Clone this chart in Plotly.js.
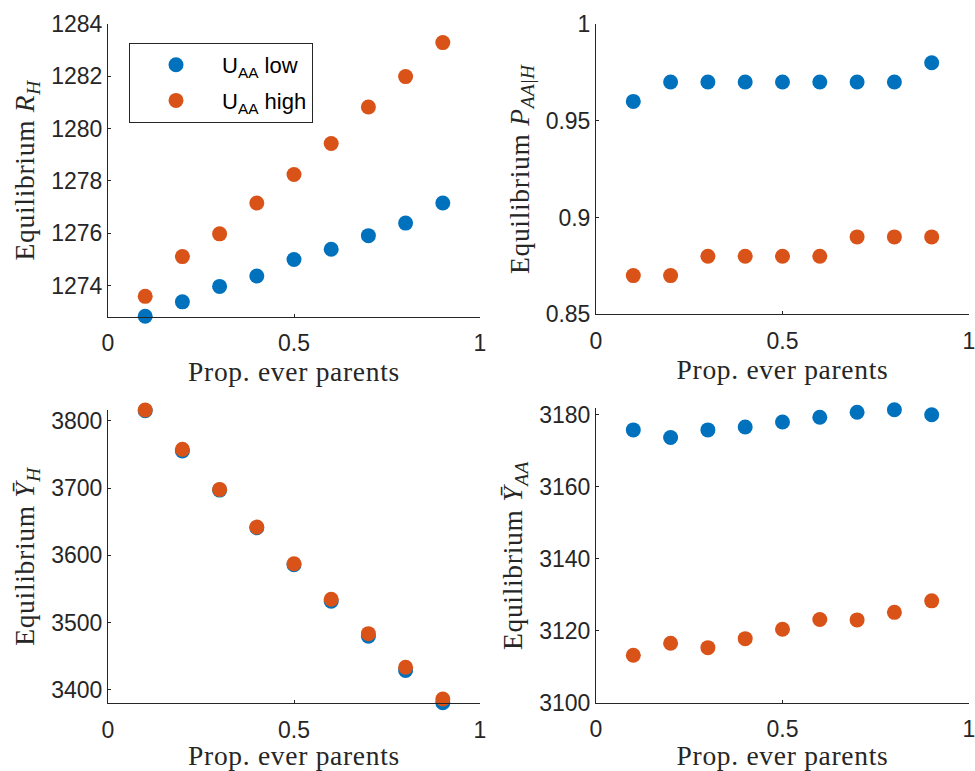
<!DOCTYPE html>
<html>
<head>
<meta charset="utf-8">
<script src="https://cdn.plot.ly/plotly-3.0.1.min.js"></script>
<style>
html,body{margin:0;padding:0;background:#fff;}
#chart{width:975px;height:771px;}
.infolayer g[class*="title"] text{letter-spacing:0.7px;}
</style>
</head>
<body>
<div id="chart"></div>
<script>
// ---- data ----
const propEverParents = [0.1, 0.2, 0.3, 0.4, 0.5, 0.6, 0.7, 0.8, 0.9];
const seriesNames = ['U<sub>AA</sub> low', 'U<sub>AA</sub> high'];

const rH_low  = [1272.83, 1273.38, 1273.97, 1274.37, 1275.00, 1275.39, 1275.91, 1276.39, 1277.16];
const rH_high = [1273.59, 1275.11, 1275.98, 1277.16, 1278.25, 1279.43, 1280.83, 1281.99, 1283.29];

const pAAH_low  = [0.96, 0.97, 0.97, 0.97, 0.97, 0.97, 0.97, 0.97, 0.98];
const pAAH_high = [0.87, 0.87, 0.88, 0.88, 0.88, 0.88, 0.89, 0.89, 0.89];

const yH_low  = [3815.0, 3755.0, 3697.0, 3641.0, 3586.0, 3532.0, 3480.0, 3429.0, 3381.0];
const yH_high = [3815.9, 3757.5, 3698.0, 3642.0, 3587.5, 3534.8, 3483.7, 3433.7, 3386.6];

const yAA_low  = [3175.8, 3173.7, 3175.8, 3176.6, 3178.0, 3179.3, 3180.7, 3181.4, 3180.0];
const yAA_high = [3113.2, 3116.5, 3115.3, 3117.8, 3120.4, 3123.1, 3123.0, 3125.1, 3128.3];

const xTicks = [0, 0.5, 1];
const xTickText = ['0', '0.5', '1'];
const rHTicks = [1274, 1276, 1278, 1280, 1282, 1284];
const pTicks = [0.85, 0.9, 0.95, 1];
const pTickText = ['0.85', '0.9', '0.95', '1'];
const yHTicks = [3400, 3500, 3600, 3700, 3800];
const yAATicks = [3100, 3120, 3140, 3160, 3180];

const xTitle = 'Prop. ever parents';
const NB = '\u00A0\u00A0\u00A0';
const yTitles = [
  NB + 'Equilibrium <i>R</i><sub><i>H</i></sub>',
  NB + 'Equilibrium <i>P</i><sub><i>AA</i>|<i>H</i></sub>',
  'Equilibrium <i>Ȳ</i><sub><i>H</i></sub>',
  'Equilibrium <i>Ȳ</i><sub><i>AA</i></sub>'
];

// ---- styling ----
const colLow = '#0072BD';
const colHigh = '#D95319';
const axCol = '#262626';
const tickFont = {family: 'Liberation Sans, Arial, sans-serif', size: 23, color: axCol};
const titleFont = {family: 'Liberation Serif, Times New Roman, serif', size: 27.5, color: axCol};

function mk(x, y, color, name, grp, xa, ya, showleg) {
  return {
    type: 'scatter', mode: 'markers', x: x, y: y, name: name,
    legendgroup: grp,
    xaxis: xa, yaxis: ya, showlegend: showleg, cliponaxis: false,
    marker: {color: color, size: 15, line: {width: 0}}
  };
}

const data = [
  mk(propEverParents, rH_low, colLow, seriesNames[0], 'low', 'x', 'y', true),
  mk(propEverParents, rH_high, colHigh, seriesNames[1], 'high', 'x', 'y', true),
  mk(propEverParents, pAAH_low, colLow, seriesNames[0], 'low', 'x2', 'y2', false),
  mk(propEverParents, pAAH_high, colHigh, seriesNames[1], 'high', 'x2', 'y2', false),
  mk(propEverParents, yH_low, colLow, seriesNames[0], 'low', 'x3', 'y3', false),
  mk(propEverParents, yH_high, colHigh, seriesNames[1], 'high', 'x3', 'y3', false),
  mk(propEverParents, yAA_low, colLow, seriesNames[0], 'low', 'x4', 'y4', false),
  mk(propEverParents, yAA_high, colHigh, seriesNames[1], 'high', 'x4', 'y4', false)
];

function xa(domain, anchor) {
  return {
    domain: domain, anchor: anchor, range: [0, 1],
    tickvals: xTicks, ticktext: xTickText, tickfont: tickFont,
    showline: true, linecolor: axCol, linewidth: 1,
    ticks: 'inside', ticklen: 3, tickcolor: axCol,
    showgrid: false, zeroline: false, ticklabelstandoff: 6,
    ticklabeloverflow: 'allow',
    title: {text: xTitle, font: titleFont, standoff: 6}
  };
}
function ya(domain, anchor, range, tv, tt, title) {
  const o = {
    domain: domain, anchor: anchor, range: range,
    tickvals: tv, tickfont: tickFont,
    showline: true, linecolor: axCol, linewidth: 1,
    ticks: 'inside', ticklen: 3, tickcolor: axCol,
    showgrid: false, zeroline: false, ticklabeloverflow: 'allow',
    title: {text: title, font: titleFont, standoff: 8}
  };
  if (tt) o.ticktext = tt;
  return o;
}

const xL = [108/975, 480/975], xR = [596/975, 969/975];

const layout = {
  width: 975, height: 771,
  margin: {l: 0, r: 0, t: 0, b: 0},
  paper_bgcolor: '#ffffff', plot_bgcolor: '#ffffff',
  showlegend: true,
  legend: {
    x: 129/975, y: 1 - 43/771, xanchor: 'left', yanchor: 'top',
    bgcolor: '#ffffff', bordercolor: axCol, borderwidth: 1,
    font: {family: 'Liberation Sans, Arial, sans-serif', size: 22, color: '#000000'},
    itemwidth: 82, tracegroupgap: 4
  },
  xaxis:  xa(xL, 'y'),
  yaxis:  ya([(771-316.5)/771, (771-24)/771], 'x', [1272.82, 1284], rHTicks, null, yTitles[0]),
  xaxis2: xa(xR, 'y2'),
  yaxis2: ya([(771-314.3)/771, (771-24)/771], 'x2', [0.85, 1], pTicks, pTickText, yTitles[1]),
  xaxis3: xa(xL, 'y3'),
  yaxis3: ya([(771-702.9)/771, (771-410)/771], 'x3', [3380.8, 3816], yHTicks, null, yTitles[2]),
  xaxis4: xa(xR, 'y4'),
  yaxis4: ya([(771-702.7)/771, (771-408.3)/771], 'x4', [3100, 3181.8], yAATicks, null, yTitles[3])
};

Plotly.newPlot('chart', data, layout, {displayModeBar: false, staticPlot: true});
</script>
</body>
</html>
